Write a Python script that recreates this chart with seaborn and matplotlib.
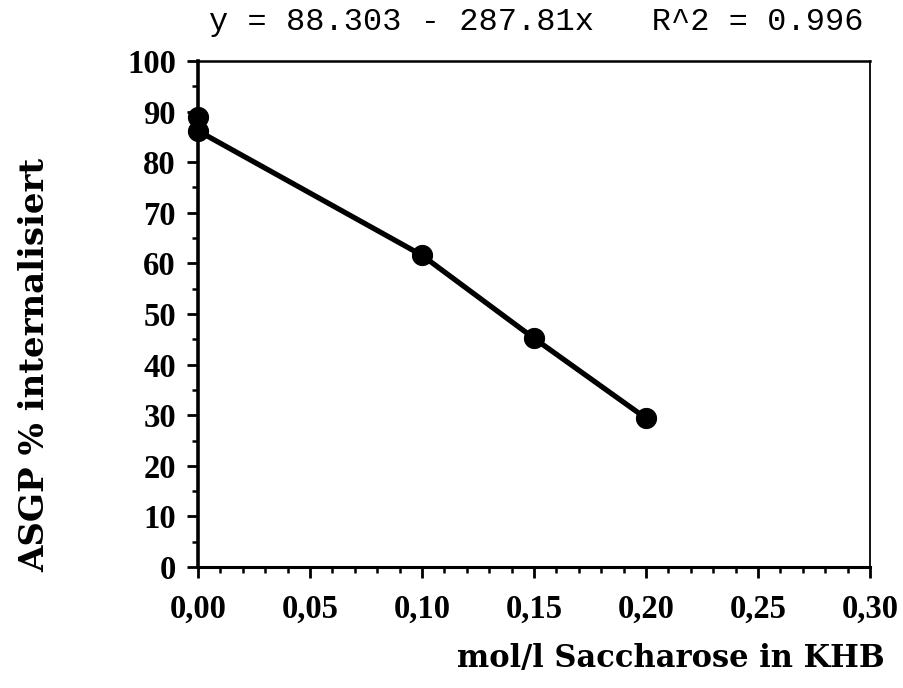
import matplotlib
matplotlib.use("Agg")
import matplotlib.pyplot as plt
import seaborn as sns
import pandas as pd
from matplotlib.ticker import MultipleLocator, FuncFormatter

# data
saccharose = [0.0, 0.0, 0.10, 0.15, 0.20]
internalisiert = [88.9, 86.2, 61.6, 45.2, 29.4]
x_ticks = [0.00, 0.05, 0.10, 0.15, 0.20, 0.25, 0.30]
y_ticks = [0, 10, 20, 30, 40, 50, 60, 70, 80, 90, 100]
equation = "y = 88.303 - 287.81x   R^2 = 0.996"
x_label = "mol/l Saccharose in KHB"
y_label = "ASGP % internalisiert"

sns.set_style("ticks")
plt.rcParams["font.family"] = ["Liberation Serif", "DejaVu Serif"]
plt.rcParams["text.color"] = "black"
plt.rcParams["xtick.color"] = "black"
plt.rcParams["ytick.color"] = "black"

df = pd.DataFrame({"x": saccharose, "y": internalisiert})

fig = plt.figure(figsize=(9.04, 6.88), dpi=100)
ax = fig.add_axes([198/904, 1-567/688, (870-198)/904, (567-61)/688])

sns.lineplot(data=df, x="x", y="y", ax=ax, estimator=None, sort=False,
             color="black", linewidth=3.8, marker="o", markersize=14.5,
             markeredgecolor="black", markerfacecolor="black", clip_on=False,
             zorder=5)

ax.set_xlim(0, 0.30)
ax.set_ylim(0, 100)
ax.set_xticks(x_ticks)
ax.set_yticks(y_ticks)
ax.xaxis.set_minor_locator(MultipleLocator(0.01))
ax.yaxis.set_minor_locator(MultipleLocator(5))
ax.xaxis.set_major_formatter(FuncFormatter(lambda v, p: f"{v:.2f}".replace(".", ",")))
ax.yaxis.set_major_formatter(FuncFormatter(lambda v, p: f"{v:.0f}"))
ax.tick_params(axis="both", which="both", bottom=True, left=True, top=False, right=False)
ax.tick_params(axis="both", which="major", direction="out", length=8, width=2,
               labelsize=23.5, color="black", labelcolor="black")
ax.tick_params(axis="both", which="minor", direction="out", length=4.5, width=1.8,
               color="black")
ax.tick_params(axis="x", which="major", pad=11)
ax.tick_params(axis="y", which="major", pad=8)
for lab in ax.get_xticklabels() + ax.get_yticklabels():
    lab.set_fontweight("bold")
ax.set_xlabel("")
ax.set_ylabel("")

for side, w in {"left": 2.6, "bottom": 2.2, "top": 1.8, "right": 1.3}.items():
    ax.spines[side].set_visible(True)
    ax.spines[side].set_color("black")
    ax.spines[side].set_linewidth(w)

fig.text(536/904, 1-22/688, equation, ha="center", va="center",
         fontsize=23, family=["Liberation Mono", "DejaVu Sans Mono"], color="black")
fig.text(885/904, 1-658/688, x_label, ha="right", va="center",
         fontsize=22, fontweight="bold", family=["DejaVu Serif"], color="black")
fig.text(35/904, 1-365/688, y_label, ha="center", va="center",
         rotation=90, fontsize=24.5, fontweight="bold", family=["DejaVu Serif"],
         color="black")

fig.savefig("out.png", dpi=100, facecolor="white")
